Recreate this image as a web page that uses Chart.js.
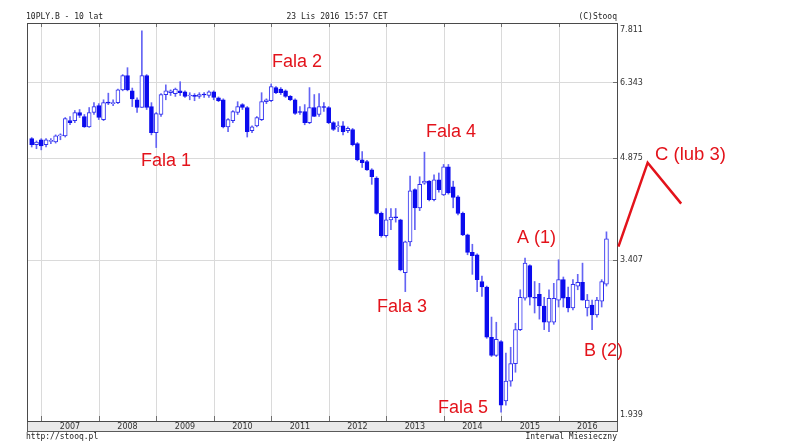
<!DOCTYPE html>
<html><head><meta charset="utf-8">
<script src="https://cdn.jsdelivr.net/npm/chart.js@4.4.0/dist/chart.umd.min.js"></script>
<style>html,body{margin:0;padding:0;background:#fff;}#wrap{width:788px;height:447px;}</style>
</head><body><div id="wrap"><canvas id="c" width="788" height="447"></canvas></div>
<script>
// ---- categories: monthly candles Nov 2006 .. Nov 2016 ----
const firstYear = 2006, firstMonth = 11, monthCount = 121;
const months = [];
for (let k = 0; k < monthCount; k++) {
  const m = (firstMonth - 1 + k) % 12 + 1, yv = firstYear + Math.floor((firstMonth - 1 + k) / 12);
  months.push(yv + '-' + String(m).padStart(2, '0'));
}
const yearLabels = ['2007','2008','2009','2010','2011','2012','2013','2014','2015','2016'];
const yTickValues = [1.939, 3.407, 4.875, 6.343, 7.811];

// ---- series (10PLY.B, monthly OHLC) ----
const opens = [5.21,5.10,5.19,5.10,5.16,5.15,5.26,5.26,5.55,5.55,
5.71,5.63,5.43,5.71,5.85,5.57,5.91,5.89,5.91,6.18,
6.50,6.16,5.97,5.81,6.50,5.83,5.32,5.67,6.08,6.12,
6.10,6.16,6.14,6.05,6.06,6.04,6.08,6.06,6.14,6.01,
5.97,5.43,5.55,5.71,5.87,5.81,5.36,5.45,5.57,5.93,
5.95,6.23,6.20,6.16,6.04,5.97,5.73,5.73,5.51,5.81,
5.67,5.83,5.81,5.51,5.43,5.45,5.36,5.38,5.12,4.84,
4.81,4.67,4.54,4.01,3.71,3.92,3.96,3.92,3.26,3.63,
4.36,4.09,4.46,4.49,4.21,4.51,4.28,4.72,4.40,4.25,
4.01,3.72,3.50,3.47,3.16,3.10,2.60,2.44,2.56,2.08,
2.23,2.37,2.67,2.98,3.34,2.99,3.02,2.90,2.74,2.74,
2.96,3.18,2.99,2.88,3.11,3.15,2.88,2.91,2.81,2.95,
3.13];
const highs = [5.23,5.17,5.21,5.21,5.21,5.28,5.30,5.61,5.63,5.75,
5.77,5.67,5.81,5.91,5.89,5.97,6.11,5.97,6.20,6.52,
6.68,6.22,6.01,7.60,6.52,5.91,5.71,6.10,6.29,6.18,
6.22,6.36,6.16,6.12,6.10,6.12,6.12,6.16,6.16,6.03,
5.99,5.59,5.75,5.93,5.89,5.83,5.45,5.63,6.12,5.99,
6.31,6.25,6.23,6.18,6.06,5.99,5.83,5.87,6.23,6.08,
6.10,5.91,5.83,5.53,5.53,5.53,5.43,5.40,5.14,4.98,
4.83,4.69,4.56,4.03,4.08,4.08,4.08,3.93,3.64,4.57,
4.37,4.56,4.97,4.50,4.59,4.62,4.76,4.76,4.49,4.27,
4.03,3.73,3.60,3.48,3.22,3.11,2.79,2.74,2.57,2.46,
2.51,2.73,3.07,3.43,3.35,3.16,3.14,2.99,3.07,3.14,
3.41,3.21,3.10,3.18,3.24,3.37,3.02,2.96,2.99,3.18,
3.76];
const lows = [5.06,5.03,5.01,5.06,5.12,5.13,5.19,5.24,5.47,5.51,
5.61,5.42,5.42,5.67,5.57,5.55,5.87,5.85,5.89,6.16,
6.16,5.83,5.71,5.81,5.77,5.28,5.05,5.63,5.97,6.06,
6.04,6.06,6.02,5.97,5.95,6.00,6.02,6.02,5.97,5.93,
5.41,5.34,5.51,5.67,5.77,5.24,5.32,5.43,5.55,5.89,
5.93,6.10,6.08,6.02,5.95,5.67,5.67,5.47,5.49,5.63,
5.63,5.73,5.49,5.36,5.34,5.28,5.32,5.08,4.82,4.71,
4.66,4.44,4.00,3.69,3.69,3.79,3.89,3.28,3.05,3.58,
3.79,4.05,4.44,4.19,4.19,4.32,4.27,4.29,4.09,3.99,
3.71,3.47,3.24,3.05,3.00,2.59,2.43,2.43,2.00,2.05,
2.19,2.30,2.66,2.96,2.91,2.83,2.77,2.67,2.65,2.72,
2.89,2.89,2.84,2.86,3.07,2.96,2.80,2.67,2.79,2.89,
3.11];
const closes = [5.10,5.15,5.08,5.19,5.17,5.26,5.28,5.59,5.51,5.71,
5.65,5.43,5.71,5.83,5.61,5.91,5.90,5.91,6.18,6.50,
6.18,5.99,5.81,6.50,5.81,5.32,5.69,6.08,6.16,6.16,
6.20,6.12,6.04,6.06,6.04,6.08,6.07,6.14,6.02,5.95,
5.43,5.57,5.73,5.83,5.81,5.34,5.43,5.61,5.93,5.97,
6.25,6.12,6.12,6.04,5.97,5.69,5.71,5.51,5.81,5.63,
5.83,5.81,5.51,5.38,5.45,5.34,5.40,5.10,4.84,4.79,
4.67,4.56,4.01,3.71,3.92,3.96,3.95,3.29,3.63,4.34,
4.09,4.44,4.49,4.21,4.51,4.36,4.72,4.31,4.24,4.01,
3.72,3.50,3.46,3.18,3.10,2.60,2.44,2.58,2.05,2.23,
2.37,2.67,2.99,3.37,2.99,2.98,2.90,2.74,2.98,2.98,
3.18,2.98,2.88,3.13,3.15,2.96,2.96,2.81,2.96,3.16,
3.67];

// projected wave C path (month index, yield)
const waveX = [122.5, 128.6, 135.6];
const waveY = [3.57, 4.79, 4.15];

// annotation labels
const waveLabels = ['Fala 1','Fala 2','Fala 3','Fala 4','Fala 5','A (1)','B (2)','C (lub 3)'];

// ---- build library data ----
const bodyData = months.map((m, i) => ({x: i, y: [opens[i], closes[i]]}));
const wickData = months.map((m, i) => ({x: i, y: [lows[i], highs[i]]}));
const yearIdx = yearLabels.map(y => months.indexOf(y + '-01'));

const BLUE = '#0b0bee', OUT = '#2f2ff0', WICK = '#6464f4', RED = '#e3131b';

const decor = {
  id: 'decor',
  beforeDraw(chart) {
    const c = chart.ctx; c.save(); c.fillStyle = '#fff'; c.fillRect(0, 0, chart.width, chart.height); c.restore();
  },
  beforeDatasetsDraw(chart) {
    const {ctx, chartArea: a, scales: {x, y}} = chart;
    ctx.save();
    ctx.lineWidth = 1;
    ctx.strokeStyle = '#dadada';
    yearIdx.forEach(i => {
      const px = Math.round(x.getPixelForValue(i)) + 0.5;
      ctx.beginPath(); ctx.moveTo(px, a.top); ctx.lineTo(px, a.bottom); ctx.stroke();
    });
    yTickValues.forEach(v => {
      const py = Math.round(y.getPixelForValue(v)) + 0.5;
      ctx.beginPath(); ctx.moveTo(a.left, py); ctx.lineTo(a.right, py); ctx.stroke();
    });
    // strip under plot
    ctx.fillStyle = '#e9e9e9';
    ctx.fillRect(a.left, a.bottom, a.right - a.left, 10);
    ctx.strokeStyle = '#5a5a5a';
    ctx.strokeRect(Math.round(a.left) + 0.5, Math.round(a.bottom) + 0.5, Math.round(a.right - a.left), 10);
    // small tick marks
    ctx.strokeStyle = '#707070';
    yearIdx.forEach(i => {
      const px = Math.round(x.getPixelForValue(i)) + 0.5;
      ctx.beginPath(); ctx.moveTo(px, a.bottom - 5); ctx.lineTo(px, a.bottom); ctx.stroke();
      ctx.beginPath(); ctx.moveTo(px, a.top); ctx.lineTo(px, a.top + 4); ctx.stroke();
    });
    yTickValues.forEach(v => {
      const py = Math.round(y.getPixelForValue(v)) + 0.5;
      ctx.beginPath(); ctx.moveTo(a.right - 4, py); ctx.lineTo(a.right, py); ctx.stroke();
    });
    // plot frame
    ctx.strokeStyle = '#4a4a4a';
    ctx.strokeRect(Math.round(a.left) + 0.5, Math.round(a.top) + 0.5, Math.round(a.right - a.left), Math.round(a.bottom - a.top));
    // year labels
    ctx.fillStyle = '#333';
    ctx.font = '8px "DejaVu Sans"';
    ctx.textAlign = 'center'; ctx.textBaseline = 'middle';
    yearLabels.forEach((lab, k) => {
      const s = x.getPixelForValue(yearIdx[k]);
      const e = Math.min(x.getPixelForValue(yearIdx[k] + 12), a.right);
      ctx.fillText(lab, (s + e) / 2, a.bottom + 5.5);
    });
    // right tick labels
    ctx.textAlign = 'left';
    yTickValues.forEach(v => {
      let py = y.getPixelForValue(v);
      py = Math.max(py, a.top + 7); py = Math.min(py, a.bottom - 6);
      ctx.fillText(v.toFixed(3), a.right + 3, py);
    });
    // header / footer
    ctx.fillStyle = '#222';
    ctx.font = '8px "DejaVu Sans Mono"';
    ctx.textAlign = 'left';
    ctx.fillText('10PLY.B - 10 lat', a.left - 1, 17);
    ctx.fillText('http://stooq.pl', a.left - 1, 437);
    ctx.textAlign = 'center';
    ctx.fillText('23 Lis 2016 15:57 CET', 337, 17);
    ctx.textAlign = 'right';
    ctx.fillText('(C)Stooq', a.right, 17);
    ctx.fillText('Interwal Miesieczny', a.right, 437);
    ctx.restore();
  },
  afterDraw(chart) {
    const {ctx, scales: {x, y}} = chart;
    ctx.save();
    // projected wave path, placed through the chart's scales
    ctx.strokeStyle = RED; ctx.lineWidth = 2.5; ctx.lineJoin = 'miter';
    ctx.beginPath();
    waveX.forEach((xv, i) => {
      const px = x.getPixelForValue(xv), py = y.getPixelForValue(waveY[i]);
      if (i === 0) ctx.moveTo(px, py); else ctx.lineTo(px, py);
    });
    ctx.stroke();
    ctx.fillStyle = RED;
    ctx.textAlign = 'left'; ctx.textBaseline = 'alphabetic';
    const pos = [[141,166],[272,67],[377,312],[426,137],[438,413],[517,243],[584,356],[655,160]];
    waveLabels.forEach((t, i) => {
      ctx.font = (i === 7 ? '18.5px' : '18px') + ' "Liberation Sans"';
      ctx.fillText(t, pos[i][0], pos[i][1]);
    });
    ctx.restore();
  }
};

new Chart(document.getElementById('c'), {
  type: 'bar',
  data: {
    datasets: [
      {
        data: bodyData, order: 0, grouped: false, barThickness: 4, minBarLength: 1,
        borderWidth: 1, borderSkipped: false,
        backgroundColor: c => { const i = c.dataIndex; return closes[i] < opens[i] ? BLUE : '#ffffff'; },
        borderColor: c => { const i = c.dataIndex; return closes[i] < opens[i] ? BLUE : OUT; }
      },
      {
        data: wickData, order: 1, grouped: false, barThickness: 1, borderWidth: 0,
        backgroundColor: WICK
      }
    ]
  },
  options: {
    responsive: false, animation: false, devicePixelRatio: 1,
    layout: {padding: {left: 27, right: 171, top: 23, bottom: 26}},
    plugins: {legend: {display: false}, tooltip: {enabled: false}},
    scales: {
      x: {type: 'linear', min: -0.98, max: 122.2, offset: false, display: false},
      y: {type: 'logarithmic', min: 1.939, max: 7.811, display: false}
    }
  },
  plugins: [decor]
});
</script></body></html>
